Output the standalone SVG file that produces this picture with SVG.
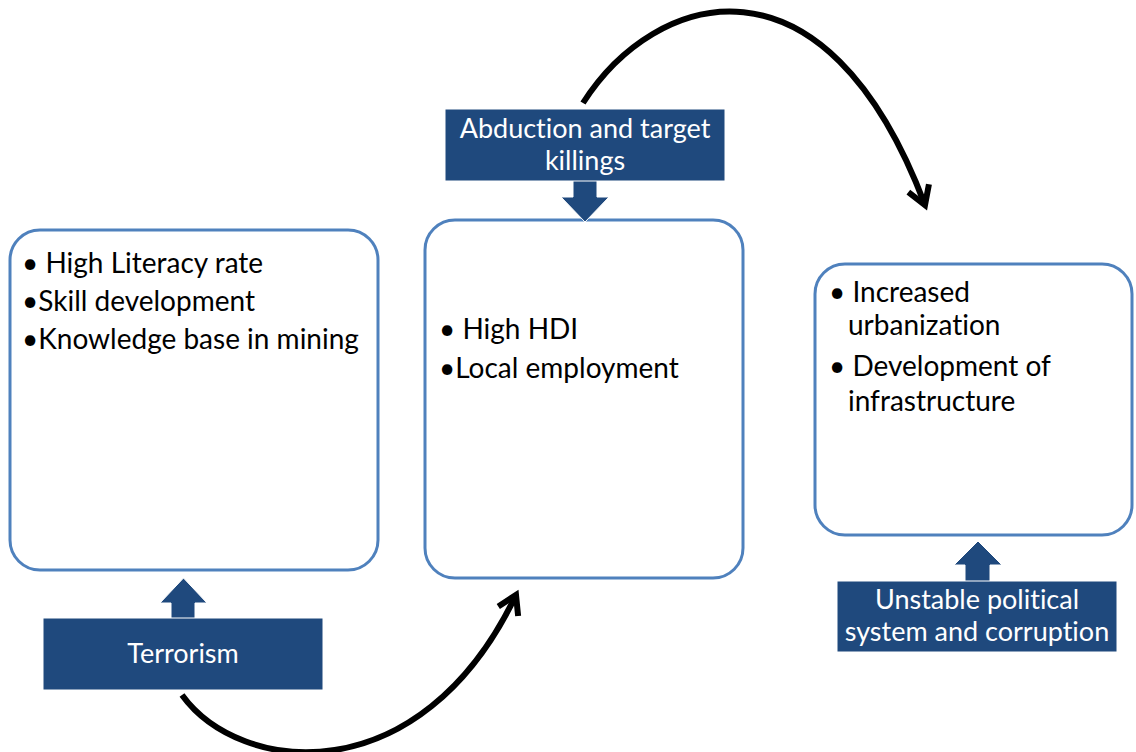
<svg xmlns="http://www.w3.org/2000/svg" width="1136" height="752" viewBox="0 0 1136 752">
<style>
.box{fill:#fff;stroke:#4F81BD;stroke-width:3}
.blk{fill:#1F497D;stroke:#fff;stroke-width:1}
.t{font-family:Lato,"Liberation Sans",sans-serif;font-size:28px;fill:#000;font-variant-ligatures:none}
.w{font-family:Lato,"Liberation Sans",sans-serif;font-size:27px;fill:#fff;text-anchor:middle;font-variant-ligatures:none}
.conn{fill:none;stroke:#000;stroke-width:6}
</style>
<defs>
<marker id="ah" markerUnits="userSpaceOnUse" markerWidth="44" markerHeight="44" viewBox="-30 -22 44 44" refX="0" refY="0" orient="auto">
<path d="M-18,-11 L0,0 L-18,11" fill="none" stroke="#000" stroke-width="6"/>
</marker>
</defs>
<g id="box1">
<rect class="box" x="10" y="230" width="368" height="340" rx="30"/>
<text class="t" x="22" y="273">• High Literacy rate</text>
<text class="t" x="22" y="311">•Skill development</text>
<text class="t" x="22" y="349">•Knowledge base in mining</text>
</g>
<g id="box2">
<rect class="box" x="425" y="220" width="318" height="358" rx="30"/>
<text class="t" x="439" y="339">• High HDI</text>
<text class="t" x="439" y="378">•Local employment</text>
</g>
<g id="box3">
<rect class="box" x="815" y="264" width="317" height="271" rx="30"/>
<text class="t" x="829" y="302">•  Increased</text>
<text class="t" x="848" y="335">urbanization</text>
<text class="t" x="829" y="376">• Development of</text>
<text class="t" x="848" y="411">infrastructure</text>
</g>
<g id="terrorism">
<polygon class="blk" points="171,619 171,603 160,603 183.5,578 207,603 195,603 195,619"/>
<rect class="blk" x="43" y="618" width="280" height="72"/>
<text class="w" x="183" y="663">Terrorism</text>
</g>
<g id="abduction">
<polygon class="blk" points="573,180 573,197 561,197 585,222 609,197 597,197 597,180"/>
<rect class="blk" x="445" y="109" width="280" height="72"/>
<text class="w" x="585" y="138">Abduction and target</text>
<text class="w" x="585" y="170">killings</text>
</g>
<g id="unstable">
<polygon class="blk" points="965,582 965,565 954,565 978,541 1002,565 990,565 990,582"/>
<rect class="blk" x="837" y="581" width="280" height="71"/>
<text class="w" x="977" y="609">Unstable political</text>
<text class="w" x="977" y="641">system and corruption</text>
</g>
<g id="connectors">
<path class="conn" d="M583,103 C655,-10 825,-60 925,205" marker-end="url(#ah)"/>
<path class="conn" d="M182,695 C240,775 420,795 516,595" marker-end="url(#ah)"/>
</g>
</svg>
